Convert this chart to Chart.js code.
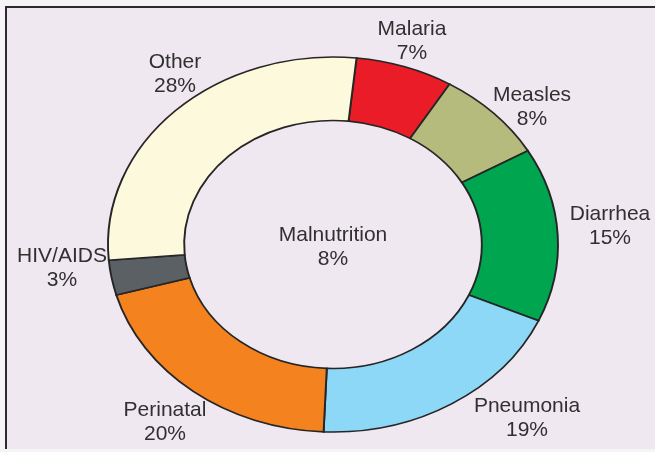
<!DOCTYPE html>
<html>
<head>
<meta charset="utf-8">
<script src="https://cdn.jsdelivr.net/npm/chart.js@4/dist/chart.umd.min.js"></script>
<style>
  html, body { margin: 0; padding: 0; background: #f7f4f8; width: 655px; height: 452px; overflow: hidden; }
  #frame { position: absolute; left: 5px; top: 6px; width: 660px; height: 443px;
           border-top: 2px solid #2e2a30; border-left: 2px solid #2e2a30; background: #f0e8f1; box-sizing: border-box; }
  #c { position: absolute; left: 0; top: 0; }
</style>
</head>
<body>
<div id="frame"></div>
<canvas id="c" width="655" height="452"></canvas>
<script>
// ---- data ----
const categories = ["Malaria", "Measles", "Diarrhea", "Pneumonia", "Perinatal", "HIV/AIDS", "Other"];
const percentages = [7, 8, 15, 19, 20, 3, 28];
const centerCategory = "Malnutrition";
const centerPercentage = 8;

// ---- styling / layout (not data) ----
const sliceColors = ["#ea1c27", "#b4bb7d", "#00a54f", "#8dd7f7", "#f4821f", "#5b6064", "#fdf9dc"];
const labelPos = {
  "Malaria":   [412, 29],
  "Measles":   [532, 95],
  "Diarrhea":  [610, 214],
  "Pneumonia": [527, 406],
  "Perinatal": [165, 410],
  "HIV/AIDS":  [62, 256],
  "Other":     [175, 62]
};
const xStretch = 1.2;

const stretchPlugin = {
  id: 'stretch',
  beforeDatasetsDraw(chart) {
    const arc = chart.getDatasetMeta(0).data[0];
    const ctx = chart.ctx;
    ctx.save();
    ctx.translate(arc.x, arc.y);
    ctx.scale(xStretch, 1);
    ctx.translate(-arc.x, -arc.y);
  },
  afterDatasetsDraw(chart) { chart.ctx.restore(); }
};

const labelPlugin = {
  id: 'labels',
  afterDraw(chart) {
    const ctx = chart.ctx;
    ctx.save();
    ctx.font = '21px "Liberation Sans", Arial, sans-serif';
    ctx.fillStyle = '#303030';
    ctx.textAlign = 'center';
    ctx.textBaseline = 'middle';
    categories.forEach((c, i) => {
      const [x, y] = labelPos[c];
      ctx.fillText(c, x, y);
      ctx.fillText(percentages[i] + '%', x, y + 24);
    });
    const arc = chart.getDatasetMeta(0).data[0];
    ctx.fillText(centerCategory, arc.x, arc.y - 9);
    ctx.fillText(centerPercentage + '%', arc.x, arc.y + 15);
    ctx.restore();
  }
};

new Chart(document.getElementById('c'), {
  type: 'doughnut',
  data: {
    labels: categories,
    datasets: [{
      data: percentages,
      backgroundColor: sliceColors,
      borderColor: '#262626',
      borderWidth: 1.6,
      borderJoinStyle: 'miter'
    }]
  },
  options: {
    responsive: false,
    animation: false,
    rotation: 6,
    radius: 187.5,
    cutout: 123.5,
    layout: { padding: { top: 57, bottom: 20, left: 33, right: 22 } },
    plugins: { legend: { display: false }, tooltip: { enabled: false } }
  },
  plugins: [stretchPlugin, labelPlugin]
});
</script>
</body>
</html>
